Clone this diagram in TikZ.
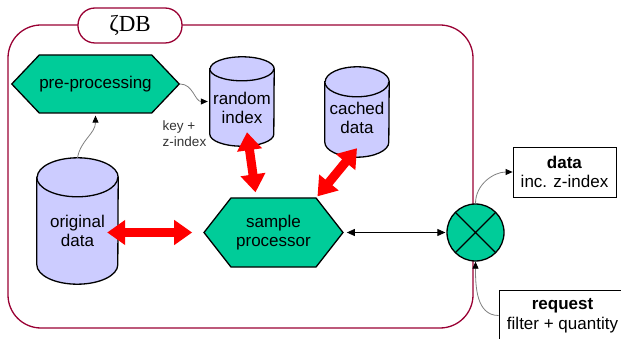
\documentclass[tikz,border=0pt]{standalone}
\usepackage{fontspec}
\setmainfont{Liberation Sans}
\newfontfamily\titlefont{Liberation Serif}
\usetikzlibrary{shapes.symbols,arrows.meta}

\definecolor{procgreen}{RGB}{0,204,153}
\definecolor{dblav}{RGB}{204,204,255}
\definecolor{framered}{RGB}{153,0,51}
\newcommand\lblfont{\fontsize{17}{19.5}\selectfont}
\newcommand\keyfont{\fontsize{13.5}{16}\selectfont}

% cylinder round the body node #1, ellipse radii #2 and #3
\newcommand\dbcyl[3]{%
	\filldraw[dbline] (#1.north west) -- (#1.south west)
		arc[start angle=180,end angle=360,x radius=#2,y radius=#3]
		-- (#1.north east)
		arc[start angle=0,end angle=180,x radius=#2,y radius=#3] -- cycle;
	\draw[dbline] (#1.north west) arc[start angle=180,end angle=360,x radius=#2,y radius=#3];
}

\tikzset{
	proc/.style={signal, signal to=west and east, signal from=nowhere, draw=black, fill=procgreen,
		line width=1.3pt, inner sep=0pt, align=center, font=\lblfont},
	dbnode/.style={rectangle, inner sep=0pt},
	dbline/.style={draw=black, fill=dblav, line width=1.3pt},
	dbtext/.style={align=center, font=\lblfont, inner sep=0pt},
	iobox/.style={draw=black, fill=white, line width=0.8pt, inner sep=0pt, align=center, font=\lblfont},
	bigarrow/.style={draw=red, line width=9pt,
		{Triangle[length=18pt,width=24pt]}-{Triangle[length=18pt,width=24pt]}},
	flow/.style={draw=gray, line width=0.8pt, -{Triangle[color=black,length=7pt,width=6pt]}},
	thinarrow/.style={draw=black, line width=0.8pt,
		{Triangle[length=8pt,width=7pt]}-{Triangle[length=8pt,width=7pt]}}
}

\begin{document}
\begin{tikzpicture}[x=1pt,y=-1pt]
	\useasboundingbox (0,0) rectangle (621,339);
	
	%MAIN BOX
	\draw[framered,line width=1.3pt,rounded corners=33pt] (8,25) rectangle (473,328);
	\node[draw=framered, fill=white, line width=1.3pt, rounded corners=17pt,
		minimum width=104pt, minimum height=35pt, font=\titlefont\fontsize{23}{25}\selectfont]
		(ttl) at (130,25.5) {ζDB};
	
	%PROCESSES
	\node[proc, minimum width=139pt, minimum height=58pt, signal pointer angle=93] (pp) at (95.5,84) {pre-processing};
	\node[proc, minimum width=139pt, minimum height=69pt, signal pointer angle=104] (sp) at (273.5,232.5) {sample\\processor};
	\node[circle, draw=black, fill=procgreen, line width=1.3pt, minimum size=57pt, inner sep=0pt,
		path picture={\draw[line width=1.3pt] (path picture bounding box.north west) -- (path picture bounding box.south east)
			(path picture bounding box.north east) -- (path picture bounding box.south west);}]
		(mx) at (475.5,232.5) {};
	
	%STORES
	\node[dbnode, minimum width=64pt, minimum height=65pt] (ri) at (242,101.5) {};
	\node[dbnode, minimum width=64pt, minimum height=60pt] (cd) at (357,112) {};
	\node[dbnode, minimum width=81pt, minimum height=87pt] (od) at (77.5,221) {};
	\dbcyl{ri}{32pt}{12pt}
	\dbcyl{cd}{32pt}{15pt}
	\dbcyl{od}{40.5pt}{19.5pt}
	\node[dbtext] (ritx) at ([yshift=-6.5pt]ri) {random\\index};
	\node[dbtext] (cdtx) at ([yshift=-6pt]cd) {cached\\data};
	\node[dbtext] (odtx) at ([yshift=-10pt]od) {original\\data};
	
	%OUTSIDE BOXES
	\node[iobox, minimum width=103pt, minimum height=50pt] (dt) at (564.5,172) {\textbf{data}\\inc. z-index};
	\node[iobox, minimum width=127pt, minimum height=51pt] (rq) at (562.5,315.5) {\textbf{request}\\filter + quantity};
	\node[align=left, inner sep=0pt, font=\keyfont, text=black!80] (kz) at (184.5,134) {key +\\z-index};
	
	%ARROWS
	\draw[bigarrow] ([xshift=-11pt]od.east |- sp.west) -- ([xshift=-11pt]sp.west);
	\draw[bigarrow] ([xshift=5pt,yshift=2pt]ri.south) -- ([xshift=-18pt,yshift=5pt]sp.north);
	\draw[bigarrow] ([yshift=-6pt]cd.south) -- ([xshift=44pt,yshift=1pt]sp.north);
	\draw[thinarrow] ([xshift=3pt]sp.east) -- ([xshift=-1pt]mx.west);
	\draw[flow] ([yshift=19.5pt]od.north) to[out=80,in=-90] ([yshift=-2pt]pp.south);
	\draw[flow] (pp.east) to[out=0,in=180] ([xshift=-2pt]ri.west);
	\draw[flow] (mx.north) to[out=90,in=180] (dt.west);
	\draw[flow] (rq.west) to[out=180,in=-90] (mx.south);
\end{tikzpicture}
\end{document}
